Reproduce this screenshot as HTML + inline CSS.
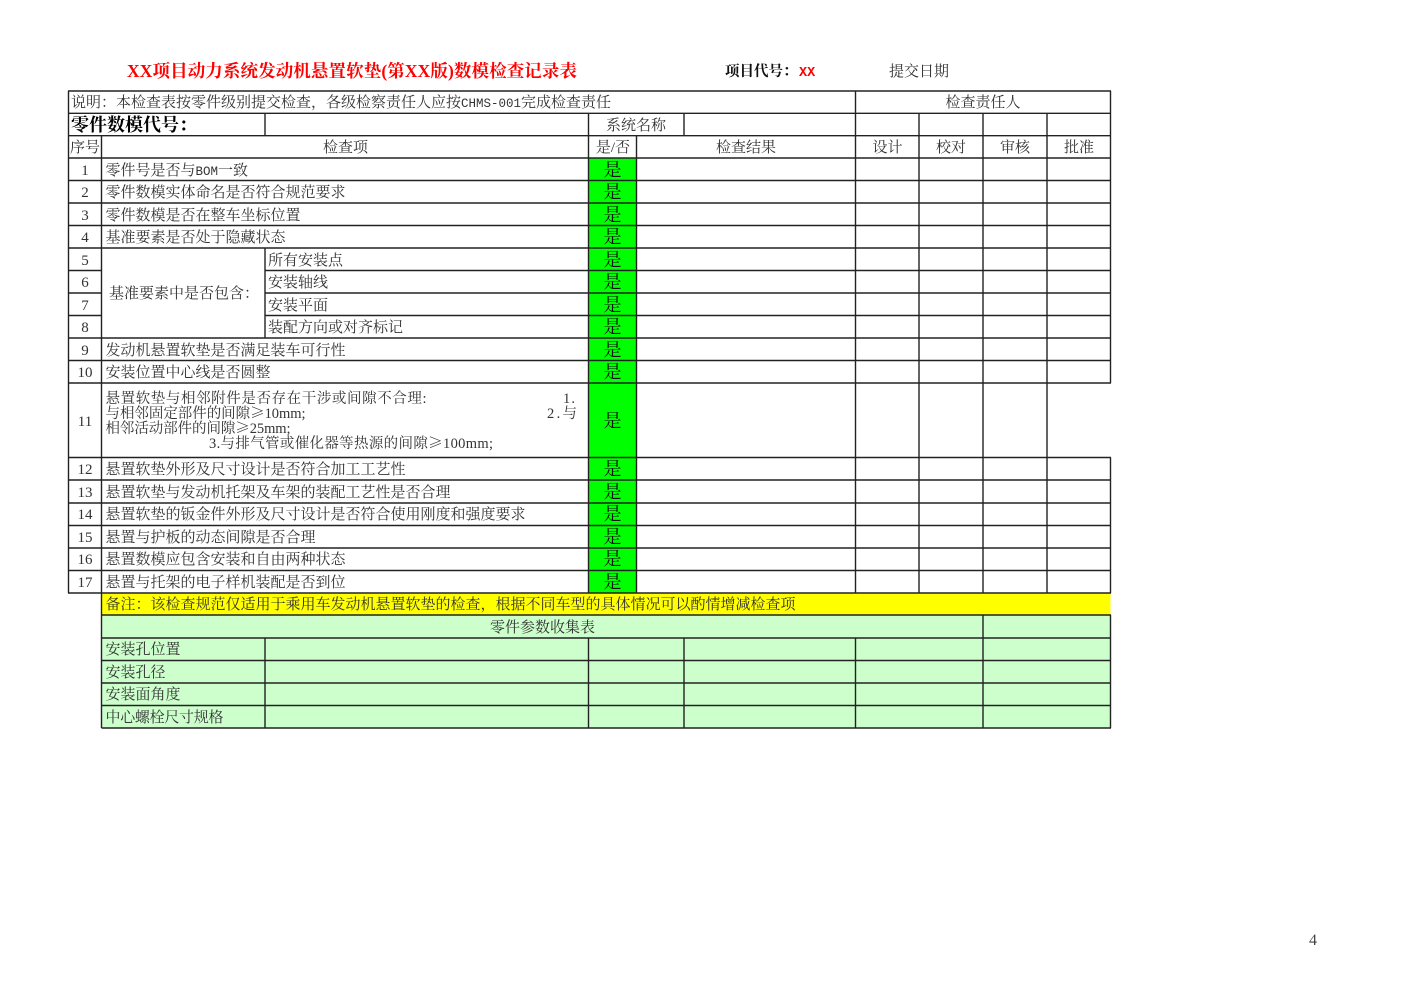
<!DOCTYPE html>
<html lang="zh">
<head>
<meta charset="utf-8">
<title>数模检查记录表</title>
<style>
html,body{margin:0;padding:0;background:#fff;width:1403px;height:992px;overflow:hidden}
svg{display:block}
text{font-family:"Liberation Serif","Noto Serif CJK SC",serif;font-size:15px;fill:#333}
.c{text-anchor:middle}
.y{font-size:18px;fill:#111;text-anchor:middle}
.n{font-size:14.5px}
.m{font-family:"Liberation Mono",monospace;font-size:12.500px}
.k{font-family:"Noto Serif CJK SC",serif}
</style>
</head>
<body>
<svg width="1403" height="992" viewBox="0 0 1403 992" xmlns="http://www.w3.org/2000/svg">
<rect width="1403" height="992" fill="#fff"/>
<rect x="589" y="158" width="47.5" height="435" fill="#00ff00"/>
<rect x="101.500" y="593" width="1009" height="22" fill="#ffff00"/>
<rect x="101.500" y="615" width="1009" height="113" fill="#ccffcc"/>
<g fill="none" stroke="#222" stroke-width="1.4">
<path d="M68 91H1111M68 113.300H1111M68 135.700H1111M68 158H1111"/>
<path d="M68 180.500H1111M68 203H1111M68 225.500H1111M68 248H1111"/>
<path d="M68 270.500H101.500M265 270.500H1111M68 293H101.500M265 293H1111M68 315.500H101.500M265 315.500H1111"/>
<path d="M68 338H1111M68 360.500H1111M68 383H1111M68 457.500H1111"/>
<path d="M68 480H1111M68 503H1111M68 525.500H1111M68 548H1111M68 570.500H1111M68 593H1111"/>
<path d="M101.500 615H1111M101.500 638H1111M101.500 660.500H1111M101.500 683H1111M101.500 705.500H1111M101.500 728H1111"/>
<path d="M68.500 91V593M1110.500 91V383M1110.500 457.500V593"/>
<path d="M855.500 91V593M919 113.300V593M983 113.300V593M1047 113.300V593"/>
<path d="M265 113.300V135.700M588.500 113.300V593M684 113.300V135.700"/>
<path d="M101.500 135.700V728M636.500 135.700V593"/>
<path d="M265 248V338"/>
<path d="M983 615V728M1110.500 615V728M265 638V728M588.500 638V728M684 638V728M855.500 638V728"/>
</g>

<text x="127" y="77" textLength="450" lengthAdjust="spacing" style="font-size:17.500px;font-weight:700;fill:#ff0000">XX项目动力系统发动机悬置软垫(第XX版)数模检查记录表</text>
<text x="725" y="76" textLength="72.500" lengthAdjust="spacing" style="font-size:14.500px;font-weight:700;fill:#111">项目代号：</text>
<text x="799" y="76" style="font-family:'Liberation Mono',monospace;font-size:13.500px;font-weight:700;fill:#ff0000">XX</text>
<text x="889" y="76" textLength="60" lengthAdjust="spacing">提交日期</text>

<text x="71" y="107" textLength="540" lengthAdjust="spacing">说明：本检查表按零件级别提交检查，各级检察责任人应按<tspan class="m">CHMS-001</tspan>完成检查责任</text>
<text x="983" y="107" class="c">检查责任人</text>
<text x="71" y="131" textLength="126" lengthAdjust="spacing" style="font-size:18px;font-weight:700;fill:#000">零件数模代号：</text>
<text x="636" y="130" class="c">系统名称</text>
<text x="85" y="152" class="c">序号</text>
<text x="345.500" y="152" class="c">检查项</text>
<text x="613" y="152" class="c">是/否</text>
<text x="746" y="152" class="c">检查结果</text>
<text x="887.500" y="152" class="c">设计</text>
<text x="951" y="152" class="c">校对</text>
<text x="1015" y="152" class="c">审核</text>
<text x="1079" y="152" class="c">批准</text>

<g>
<text class="c" x="85" y="175">1</text>
<text class="c" x="85" y="197">2</text>
<text class="c" x="85" y="220">3</text>
<text class="c" x="85" y="242">4</text>
<text class="c" x="85" y="265">5</text>
<text class="c" x="85" y="287">6</text>
<text class="c" x="85" y="310">7</text>
<text class="c" x="85" y="332">8</text>
<text class="c" x="85" y="355">9</text>
<text class="c" x="85" y="377">10</text>
<text class="c" x="85" y="426">11</text>
<text class="c" x="85" y="474">12</text>
<text class="c" x="85" y="497">13</text>
<text class="c" x="85" y="519">14</text>
<text class="c" x="85" y="542">15</text>
<text class="c" x="85" y="564">16</text>
<text class="c" x="85" y="587">17</text>
</g>

<text x="105.500" y="175">零件号是否与<tspan class="m">BOM</tspan>一致</text>
<text x="105.500" y="197" textLength="240" lengthAdjust="spacing">零件数模实体命名是否符合规范要求</text>
<text x="105.500" y="220" textLength="195" lengthAdjust="spacing">零件数模是否在整车坐标位置</text>
<text x="105.500" y="242" textLength="180" lengthAdjust="spacing">基准要素是否处于隐藏状态</text>
<text x="109" y="298" textLength="150" lengthAdjust="spacing">基准要素中是否包含：</text>
<text x="268" y="265" textLength="75" lengthAdjust="spacing">所有安装点</text>
<text x="268" y="287" textLength="60" lengthAdjust="spacing">安装轴线</text>
<text x="268" y="310" textLength="60" lengthAdjust="spacing">安装平面</text>
<text x="268" y="332" textLength="135" lengthAdjust="spacing">装配方向或对齐标记</text>
<text x="105.500" y="355" textLength="240" lengthAdjust="spacing">发动机悬置软垫是否满足装车可行性</text>
<text x="105.500" y="377" textLength="165" lengthAdjust="spacing">安装位置中心线是否圆整</text>

<text class="n" x="105.500" y="403" textLength="321" lengthAdjust="spacing">悬置软垫与相邻附件是否存在干涉或间隙不合理:</text>
<text class="n" x="563" y="403" textLength="12" lengthAdjust="spacing">1.</text>
<text class="n" x="105.500" y="418" textLength="200" lengthAdjust="spacing">与相邻固定部件的间隙<tspan class="k">≥</tspan>10mm;</text>
<text class="n" x="547" y="418" textLength="30" lengthAdjust="spacing">2.与</text>
<text class="n" x="105.500" y="433" textLength="185" lengthAdjust="spacing">相邻活动部件的间隙<tspan class="k">≥</tspan>25mm;</text>
<text class="n" x="209" y="448" textLength="284" lengthAdjust="spacing">3.与排气管或催化器等热源的间隙<tspan class="k">≥</tspan>100mm;</text>

<text x="105.500" y="474" textLength="300" lengthAdjust="spacing">悬置软垫外形及尺寸设计是否符合加工工艺性</text>
<text x="105.500" y="497" textLength="345" lengthAdjust="spacing">悬置软垫与发动机托架及车架的装配工艺性是否合理</text>
<text x="105.500" y="519" textLength="420" lengthAdjust="spacing">悬置软垫的钣金件外形及尺寸设计是否符合使用刚度和强度要求</text>
<text x="105.500" y="542" textLength="210" lengthAdjust="spacing">悬置与护板的动态间隙是否合理</text>
<text x="105.500" y="564" textLength="240" lengthAdjust="spacing">悬置数模应包含安装和自由两种状态</text>
<text x="105.500" y="587" textLength="240" lengthAdjust="spacing">悬置与托架的电子样机装配是否到位</text>

<text class="y" x="612.500" y="176">是</text>
<text class="y" x="612.500" y="198">是</text>
<text class="y" x="612.500" y="221">是</text>
<text class="y" x="612.500" y="243">是</text>
<text class="y" x="612.500" y="266">是</text>
<text class="y" x="612.500" y="288">是</text>
<text class="y" x="612.500" y="311">是</text>
<text class="y" x="612.500" y="333">是</text>
<text class="y" x="612.500" y="356">是</text>
<text class="y" x="612.500" y="378">是</text>
<text class="y" x="612.500" y="427">是</text>
<text class="y" x="612.500" y="475">是</text>
<text class="y" x="612.500" y="498">是</text>
<text class="y" x="612.500" y="520">是</text>
<text class="y" x="612.500" y="543">是</text>
<text class="y" x="612.500" y="565">是</text>
<text class="y" x="612.500" y="588">是</text>

<text x="105.500" y="609" textLength="690" lengthAdjust="spacing">备注：该检查规范仅适用于乘用车发动机悬置软垫的检查，根据不同车型的具体情况可以酌情增减检查项</text>
<text x="490" y="632" textLength="105" lengthAdjust="spacing">零件参数收集表</text>
<text x="105.500" y="654" textLength="75" lengthAdjust="spacing">安装孔位置</text>
<text x="105.500" y="677" textLength="60" lengthAdjust="spacing">安装孔径</text>
<text x="105.500" y="699" textLength="75" lengthAdjust="spacing">安装面角度</text>
<text x="105.500" y="722" textLength="118" lengthAdjust="spacing">中心螺栓尺寸规格</text>

<text x="1313" y="945" class="c" style="font-size:16px;fill:#444">4</text>
</svg>
</body>
</html>
